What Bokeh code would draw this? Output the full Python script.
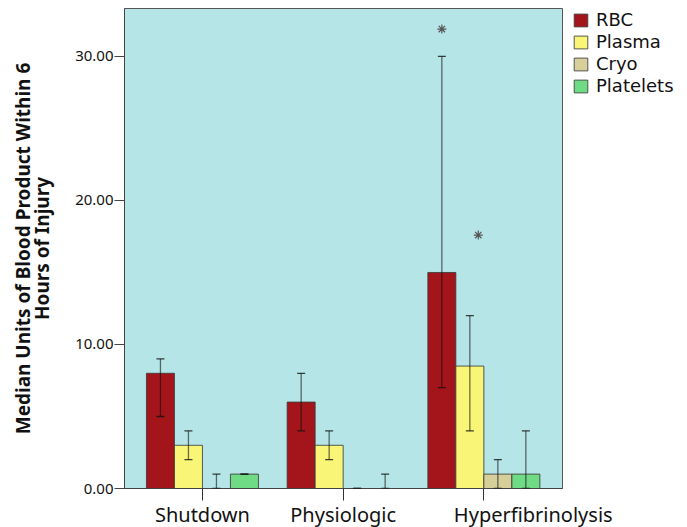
from bokeh.plotting import figure
from bokeh.models import (Range1d, Legend, LegendItem, Whisker, ColumnDataSource,
                          TeeHead, FixedTicker, NumeralTickFormatter, LinearAxis)
from bokeh.embed import file_html
from bokeh.resources import INLINE

groups = ["Shutdown", "Physiologic", "Hyperfibrinolysis"]
products = ["RBC", "Plasma", "Cryo", "Platelets"]

rbc = [8, 6, 15]
plasma = [3, 3, 8.5]
cryo = [0, 0, 1]
platelets = [1, 0, 1]

rbc_lo = [5, 4, 7]
rbc_hi = [9, 8, 30]
plasma_lo = [2, 2, 4]
plasma_hi = [4, 4, 12]
cryo_lo = [0, 0, 0]
cryo_hi = [1, 0, 2]
platelets_lo = [1, 0, 0]
platelets_hi = [1, 1, 4]

star_group = [2, 2]
star_product = [0, 1]
star_value = [31.9, 17.6]

y_ticks = [0, 10, 20, 30]
y_title_1 = "Median Units of Blood Product Within 6"
y_title_2 = "Hours of Injury"

colors = ["#a3151b", "#f8f577", "#d6cf99", "#6fdb85"]

values = [rbc, plasma, cryo, platelets]
lows = [rbc_lo, plasma_lo, cryo_lo, platelets_lo]
highs = [rbc_hi, plasma_hi, cryo_hi, platelets_hi]

bar_w = 0.199
offsets = [-1.5 * bar_w, -0.5 * bar_w, 0.5 * bar_w, 1.5 * bar_w]
# the last category label is pushed to the right in the original (layout only)
label_pad = ["", "", "\u00a0" * 19]

p = figure(frame_width=438, frame_height=480, output_backend="svg", toolbar_location=None,
           x_range=Range1d(-0.554, 2.559), y_range=Range1d(0, 33.33),
           min_border_left=124, min_border_right=120, min_border_top=8,
           min_border_bottom=30)
p.background_fill_color = "#b5e5e7"
p.border_fill_color = "white"
p.outline_line_color = "#555555"
p.outline_line_width = 1
p.xgrid.visible = False
p.ygrid.visible = False

items = []
for k, prod in enumerate(products):
    xs = [i + offsets[k] for i in range(len(groups))]
    src = ColumnDataSource(dict(x=xs, top=values[k]))
    r = p.vbar(x="x", top="top", width=bar_w, source=src, fill_color=colors[k],
               line_color="#3c3c3c", line_width=1, line_alpha=0.85)
    items.append(LegendItem(label=prod, renderers=[r]))

for k, prod in enumerate(products):
    xs = [i + offsets[k] for i in range(len(groups))]
    src = ColumnDataSource(dict(x=xs, lo=lows[k], hi=highs[k]))
    w = Whisker(base="x", lower="lo", upper="hi", source=src, level="annotation",
                line_color="#111111", line_alpha=0.6, line_width=1.3,
                upper_head=TeeHead(size=8, line_color="#111111", line_width=1.3, line_alpha=0.8),
                lower_head=TeeHead(size=8, line_color="#111111", line_width=1.3, line_alpha=0.8))
    p.add_layout(w)

sx = [g + offsets[k] + 0.06 * (k == 1) for g, k in zip(star_group, star_product)]
p.scatter(x=sx, y=star_value, marker="asterisk", size=9, line_color="#555555",
          line_width=1.2)

title_style = dict(axis_label_text_font="Noto Sans", axis_label_text_font_style="bold",
                   axis_label_text_font_size="19px", axis_label_text_color="#111111")

# y axis (ticks + second title line)
ya = p.yaxis[0]
ya.ticker = FixedTicker(ticks=y_ticks)
ya.formatter = NumeralTickFormatter(format="0.00")
ya.minor_tick_line_color = None
ya.major_tick_in = 0
ya.major_tick_out = 10
ya.major_label_standoff = 1
ya.major_label_text_font = "Noto Sans"
ya.major_label_text_font_size = "15px"
ya.major_label_text_color = "#111111"
ya.axis_line_color = "#444444"
ya.major_tick_line_color = "#444444"
ya.axis_label = y_title_2
ya.axis_label_standoff = 17
for k_, v_ in title_style.items():
    setattr(ya, k_, v_)

# outer axis carrying the first title line
ya2 = LinearAxis(ticker=FixedTicker(ticks=[]), axis_line_color=None,
                 major_tick_line_color=None, minor_tick_line_color=None,
                 axis_label=y_title_1, axis_label_standoff=-9, **title_style)
p.add_layout(ya2, "left")

# x axis
xa = p.xaxis[0]
xa.ticker = FixedTicker(ticks=list(range(len(groups))))
xa.major_label_overrides = {i: pad + g for i, (g, pad) in enumerate(zip(groups, label_pad))}
xa.minor_tick_line_color = None
xa.major_tick_in = 0
xa.major_tick_out = 12
xa.major_label_standoff = 0
xa.major_label_text_font = "Noto Sans"
xa.major_label_text_font_size = "20px"
xa.major_label_text_color = "#111111"
xa.axis_line_color = "#444444"
xa.major_tick_line_color = "#333333"

legend = Legend(items=items, location=(10, 392), padding=0, margin=0,
                border_line_color=None, background_fill_alpha=0,
                glyph_width=17, glyph_height=16, label_height=16, spacing=1,
                label_standoff=7, label_text_font="DejaVu Sans",
                label_text_font_size="18px", label_text_color="#111111")
p.add_layout(legend, "right")

open("out.html", "w").write(file_html(p, INLINE))
